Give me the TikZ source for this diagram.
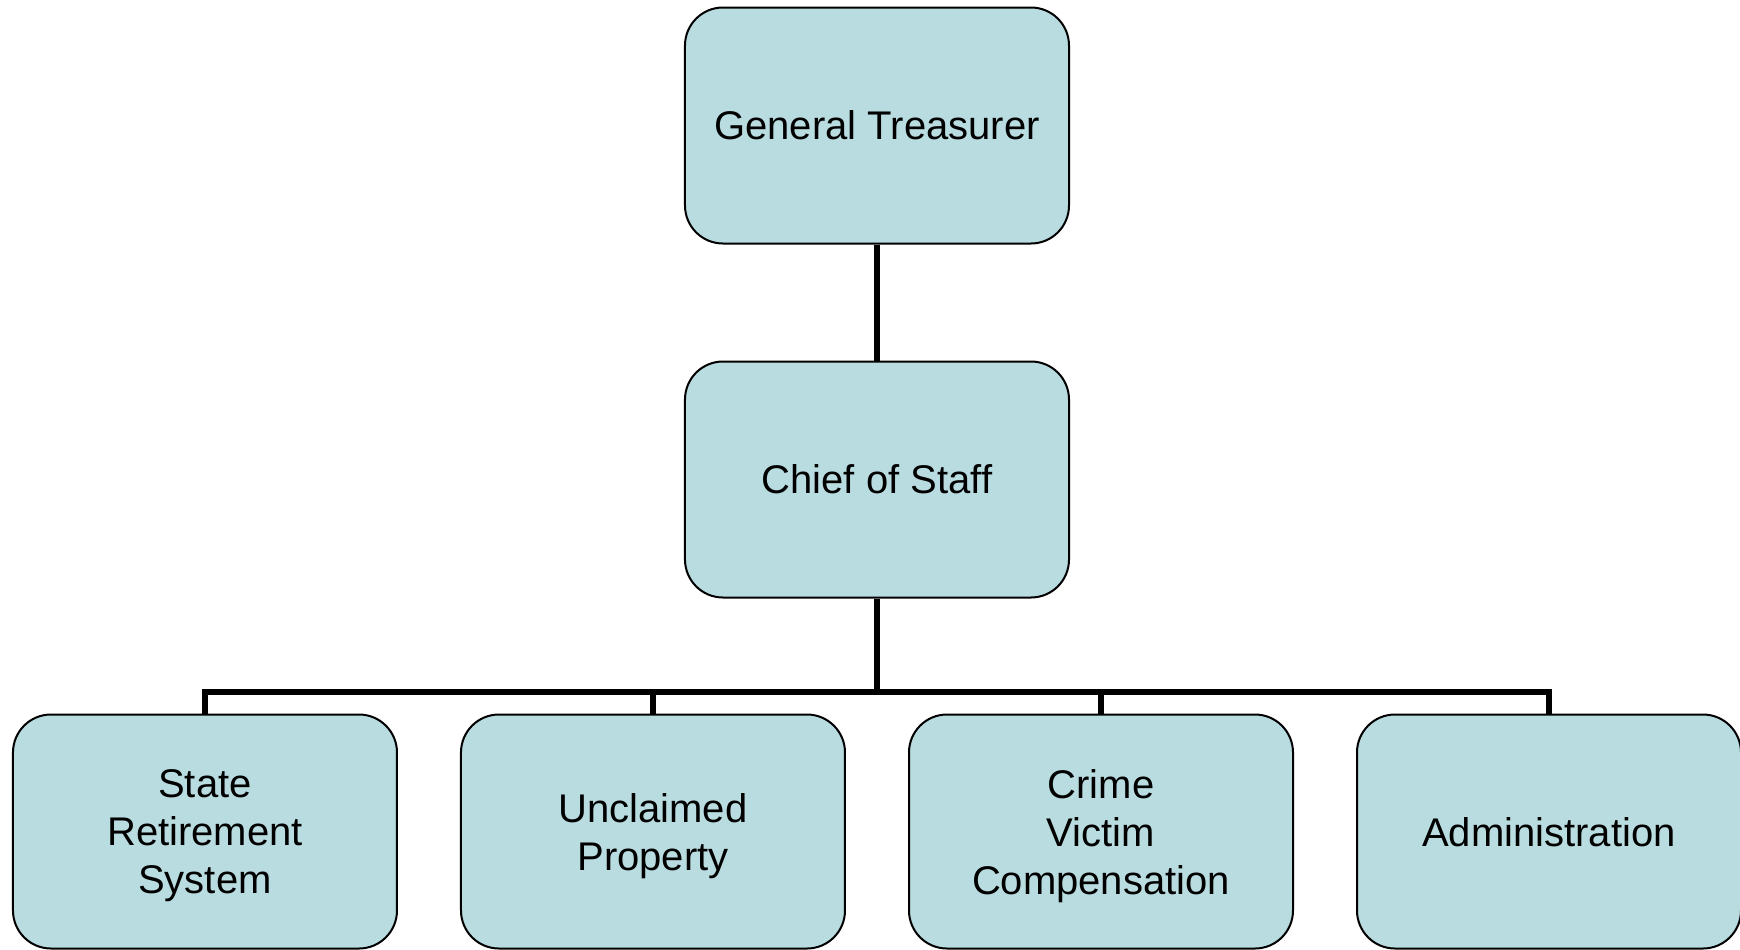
\documentclass[tikz,border=0pt]{standalone}
\usepackage{fontspec}
\setmainfont{Liberation Sans}
\usepackage{tikz}
\usetikzlibrary{calc, positioning}
\definecolor{boxfill}{RGB}{185,220,224}
\tikzstyle{unit}=[draw, fill=boxfill, rounded corners=19pt, line width=1pt,
minimum width=192pt, minimum height=118pt, align=center,
font=\fontsize{20}{24}\selectfont]
\tikzstyle{dept}=[unit, minimum height=117pt, text depth=0pt]
\tikzstyle{link}=[line width=3pt]

\begin{document}
\begin{tikzpicture}[node distance=177pt]
      \useasboundingbox (-438.5pt,62.75pt) rectangle (431.5pt,-411.75pt);
      \node [unit] (gt) {General Treasurer};
      \node [unit] (cos) [below of=gt] {Chief of Staff};
      \node [coordinate] (bus) [below of=cos, node distance=106.25pt] {};
      \node [dept] (up) [below of=cos, node distance=176pt, xshift=-112pt] {Unclaimed\\Property};
      \node [dept] (srs) [left of=up, node distance=224pt] {State\\Retirement\\System};
      \node [dept] (cvc) [right of=up, node distance=224pt] {Crime\\Victim\\Compensation};
      \node [dept] (adm) [right of=cvc, node distance=224pt] {Administration};
      \draw[link] (gt) -- (cos);
      \draw[link] (cos) -- (bus);
      \draw[link] (srs.north) |- (bus) -| (adm.north);
      \draw[link] (up.north) -- (up |- bus);
      \draw[link] (cvc.north) -- (cvc |- bus);
\end{tikzpicture}
\end{document}
